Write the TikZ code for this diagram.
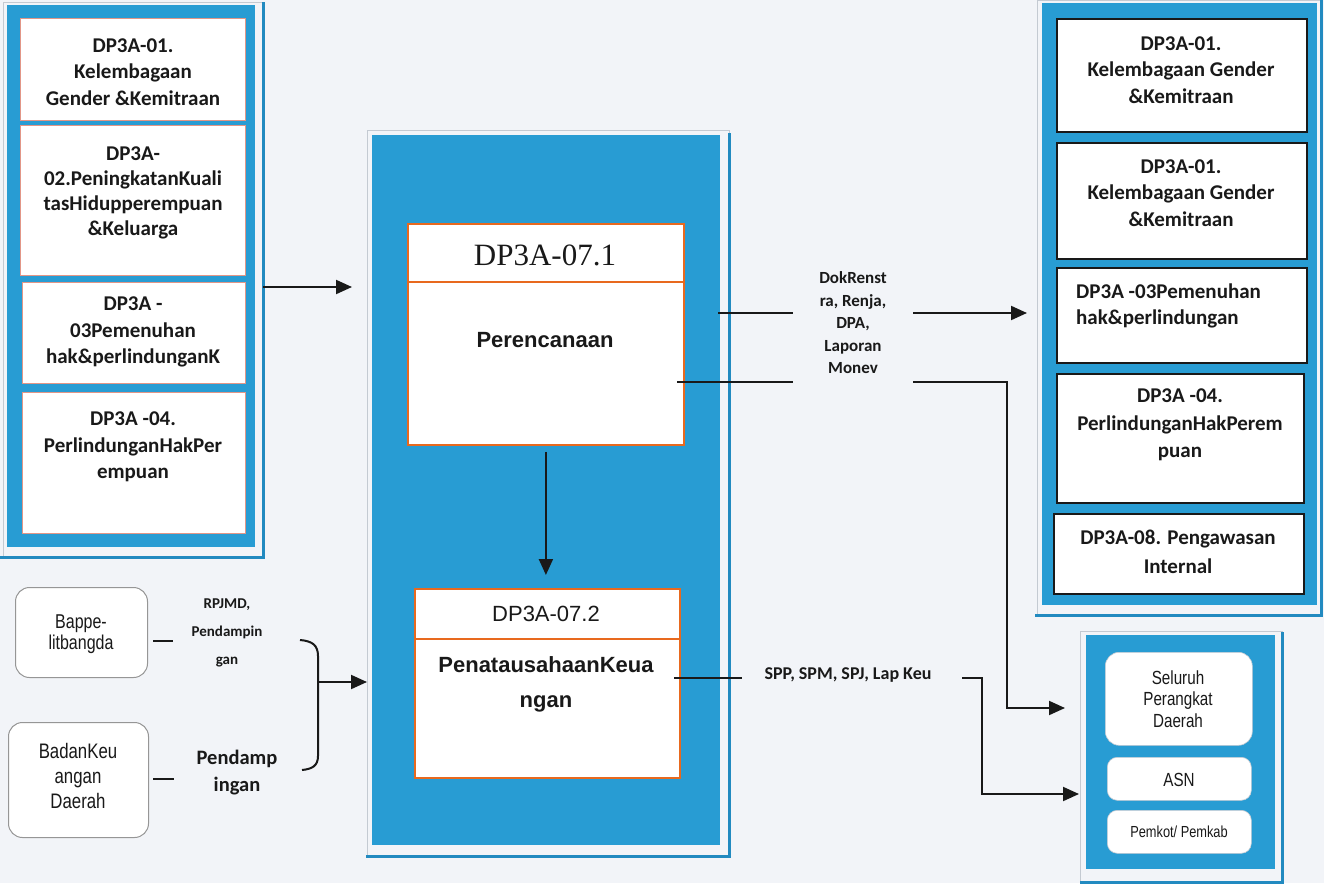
\documentclass[tikz,border=0pt]{standalone}
\usepackage{fontspec}
\setmainfont{Carlito}
\newfontfamily\arialfont{Liberation Sans}
\newfontfamily\narrowfont[FakeStretch=0.8]{Liberation Sans}
\newfontfamily\timesfont{Liberation Serif}
\usetikzlibrary{arrows.meta,calc}

\definecolor{paper}{RGB}{242,244,248}
\definecolor{panelblue}{RGB}{40,156,211}
\definecolor{shadowblue}{RGB}{34,138,192}
\definecolor{framegray}{RGB}{196,202,210}
\definecolor{pinkline}{RGB}{226,150,135}
\definecolor{orangeline}{RGB}{232,105,30}
\definecolor{ink}{RGB}{25,25,25}
\definecolor{softgray}{RGB}{150,150,150}

\begin{document}
\begin{tikzpicture}[x=1pt,y=-1pt,
  panel/.style={fill=panelblue, draw=none, anchor=north west, inner sep=0pt},
  frameline/.style={draw=framegray, line width=0.8pt},
  shadowline/.style={draw=shadowblue, line width=3pt},
  pinkbox/.style={fill=white, draw=pinkline, line width=1.2pt, anchor=north west, inner sep=0pt},
  orangebox/.style={fill=white, draw=orangeline, line width=1.8pt, anchor=north west, inner sep=0pt},
  blackbox/.style={fill=white, draw=ink, line width=2.2pt, anchor=north west, inner sep=0pt},
  roundbox/.style={fill=white, draw=softgray, line width=1pt, rounded corners=14pt, anchor=north west, inner sep=0pt},
  softbox/.style={fill=white, draw=framegray, line width=0.6pt, rounded corners=10pt, anchor=north west, inner sep=0pt},
  boxtext/.style={font=\bfseries\fontsize{21}{26.5}\selectfont, align=center, inner sep=0pt, text=ink},
  flowlabel/.style={font=\bfseries\fontsize{17}{22.5}\selectfont, align=center, inner sep=0pt, text=ink},
  narrowtext/.style={font=\narrowfont\fontsize{20}{21}\selectfont, align=center, inner sep=0pt, text=ink},
  link/.style={draw=ink, line width=2pt},
  arr/.style={link, -{Triangle[length=16pt,width=14pt]}}
]
\useasboundingbox (0,0) rectangle (1324,883);
\fill[paper] (0,0) rectangle (1324,883);

% ---------- left column: programme list ----------
\draw[frameline] (3,2) rectangle (263,557);
\node[panel, minimum width=248pt, minimum height=542pt] (lpanel) at (7,5) {};
\draw[shadowline] (0,557) -- (263,557) -- (263,2);
\node[pinkbox, minimum width=225pt, minimum height=102pt] (l1) at (20,18) {};
\node[pinkbox, minimum width=225pt, minimum height=150pt] (l2) at (20,125) {};
\node[pinkbox, minimum width=223pt, minimum height=101pt] (l3) at (22,282) {};
\node[pinkbox, minimum width=223pt, minimum height=141pt] (l4) at (22,392) {};
\node[boxtext] (l1t) at (133,72) {DP3A-01.\\Kelembagaan\\Gender \&Kemitraan};
\node[boxtext, font=\bfseries\fontsize{21}{25}\selectfont] (l2t) at (133,193) {DP3A-\\02.PeningkatanKuali\\tasHidupperempuan\\\&Keluarga};
\node[boxtext] (l3t) at (133,332) {DP3A -\\03Pemenuhan\\hak\&perlindunganK};
\node[boxtext] (l4t) at (133,447) {DP3A -04.\\PerlindunganHakPer\\empuan};

% ---------- centre column: DP3A-07 ----------
\draw[frameline] (367,130) rectangle (729,856);
\node[panel, minimum width=348pt, minimum height=710pt] (cpanel) at (372,135) {};
\draw[shadowline] (366,856) -- (729,856) -- (729,133);

\node[orangebox, minimum width=276pt, minimum height=221pt] (plan) at (407,223) {};
\draw[draw=orangeline, line width=1.8pt] (plan.west |- 0,282) -- (plan.east |- 0,282);
\node[inner sep=0pt, font=\timesfont\fontsize{31}{31}\selectfont, text=ink] (plant) at (545,255) {DP3A-07.1};
\node[inner sep=0pt, font=\arialfont\bfseries\fontsize{22}{22}\selectfont, text=ink] (planb) at (545,340) {Perencanaan};

\node[orangebox, minimum width=265pt, minimum height=189pt] (fin) at (414,588) {};
\draw[draw=orangeline, line width=1.8pt] (fin.west |- 0,639) -- (fin.east |- 0,639);
\node[inner sep=0pt, font=\arialfont\fontsize{22}{22}\selectfont, text=ink] (fint) at (546,614) {DP3A-07.2};
\node[inner sep=0pt, align=center, font=\arialfont\bfseries\fontsize{22}{35}\selectfont, text=ink] (finb) at (546,684) {PenatausahaanKeua\\ngan};

\draw[arr, shorten <=6pt, shorten >=13pt] (plan.south) -- (plan.south |- fin.north);

% ---------- left inputs ----------
\coordinate (lout) at (263,287);
\draw[arr, shorten >=20pt] (lout) -- (lout -| cpanel.west);

\node[roundbox, minimum width=132pt, minimum height=90pt] (bap) at (15,587) {};
\node[narrowtext] (bapt) at (81,634) {Bappe-\\litbangda};
\node[roundbox, minimum width=140pt, minimum height=115pt] (bkd) at (8,722) {};
\node[narrowtext, font=\narrowfont\fontsize{21}{25}\selectfont] (bkdt) at (78,776) {BadanKeu\\angan\\Daerah};

\draw[link] ($(bap.east)+(5,8)$) -- ++(20,0);
\draw[link] ($(bkd.east)+(4,-1.5)$) -- ++(21,0);

\node[flowlabel, font=\bfseries\fontsize{15}{28}\selectfont] (rpj) at (227,633) {RPJMD,\\Pendampin\\gan};
\node[boxtext, font=\bfseries\fontsize{20.5}{27}\selectfont] (pdp) at (237,773) {Pendamp\\ingan};

\draw[link] (300,640) .. controls (312,641) and (318,645) .. (318,656)
  -- (318,756) .. controls (318,766) and (312,769) .. (302,770);
\coordinate (brace) at (318,682);
\draw[arr, shorten >=5pt] (brace) -- (brace -| cpanel.west);

% ---------- right column: receiving programmes ----------
\draw[frameline] (1037,0) rectangle (1321,615);
\node[panel, minimum width=275pt, minimum height=602pt] (rpanel) at (1042,3) {};
\draw[shadowline] (1035,615) -- (1321,615) -- (1321,0);
\node[blackbox, minimum width=250pt, minimum height=113pt] (r1) at (1056,18) {};
\node[blackbox, minimum width=250pt, minimum height=116pt] (r2) at (1056,142) {};
\node[blackbox, minimum width=250pt, minimum height=95pt] (r3) at (1056,267) {};
\node[blackbox, minimum width=247pt, minimum height=129pt] (r4) at (1056,373) {};
\node[blackbox, minimum width=250pt, minimum height=80pt] (r5) at (1053,513) {};
\node[boxtext] (r1t) at (1181,70) {DP3A-01.\\Kelembagaan Gender\\\&Kemitraan};
\node[boxtext] (r2t) at (1181,193) {DP3A-01.\\Kelembagaan Gender\\\&Kemitraan};
\node[boxtext, align=left, anchor=west] (r3t) at (1076,306) {DP3A -03Pemenuhan\\hak\&perlindungan};
\node[boxtext, font=\bfseries\fontsize{21}{27.5}\selectfont] (r4t) at (1180,425) {DP3A -04.\\PerlindunganHakPerem\\puan};
\node[boxtext, font=\bfseries\fontsize{21}{29}\selectfont] (r5t) at (1178,552) {DP3A-08. Pengawasan\\Internal};

% ---------- bottom right: stakeholders ----------
\draw[frameline] (1080,631) rectangle (1282,882);
\node[panel, minimum width=189pt, minimum height=234pt] (bpanel) at (1086,635) {};
\draw[shadowline] (1080,882) -- (1282,882) -- (1282,632);
\node[softbox, rounded corners=14pt, minimum width=147pt, minimum height=93pt] (s1) at (1105,652) {};
\node[softbox, minimum width=144pt, minimum height=43pt] (s2) at (1107,757) {};
\node[softbox, minimum width=144pt, minimum height=43pt] (s3) at (1107,810) {};
\node[narrowtext, font=\narrowfont\fontsize{19}{21.5}\selectfont] (s1t) at (1178,699) {Seluruh\\Perangkat\\Daerah};
\node[narrowtext, font=\narrowfont\fontsize{19}{19}\selectfont] (s2t) at (1179,780) {ASN};
\node[narrowtext, font=\narrowfont\fontsize{16}{16}\selectfont] (s3t) at (1179,832) {Pemkot/ Pemkab};

% ---------- output flows ----------
\node[flowlabel] (dok) at (853,323) {DokRenst\\ra, Renja,\\DPA,\\Laporan\\Monev};
\coordinate (c1a) at (718,313);
\coordinate (c1b) at (793,313);
\coordinate (c1c) at (913,313);
\draw[link] (c1a) -- (c1b);
\draw[arr, shorten >=15pt] (c1c) -- (c1c -| rpanel.west);

\coordinate (c2a) at (677,382);
\coordinate (c2b) at (793,382);
\coordinate (c2c) at (913,382);
\coordinate (c2d) at (1007,382);
\coordinate (c2e) at (1007,708);
\draw[link] (c2a) -- (c2b);
\draw[arr, shorten >=21pt] (c2c) -- (c2d) -- (c2e) -- (c2e -| bpanel.west);

\node[flowlabel, font=\bfseries\fontsize{18}{22}\selectfont] (spp) at (848,675) {SPP, SPM, SPJ, Lap Keu};
\coordinate (c3a) at (674,678);
\coordinate (c3b) at (742,678);
\coordinate (c3c) at (962,678);
\coordinate (c3d) at (982,678);
\coordinate (c3e) at (982,794);
\draw[link] (c3a) -- (c3b);
\draw[arr, shorten >=7pt] (c3c) -- (c3d) -- (c3e) -- (c3e -| bpanel.west);
\end{tikzpicture}
\end{document}
